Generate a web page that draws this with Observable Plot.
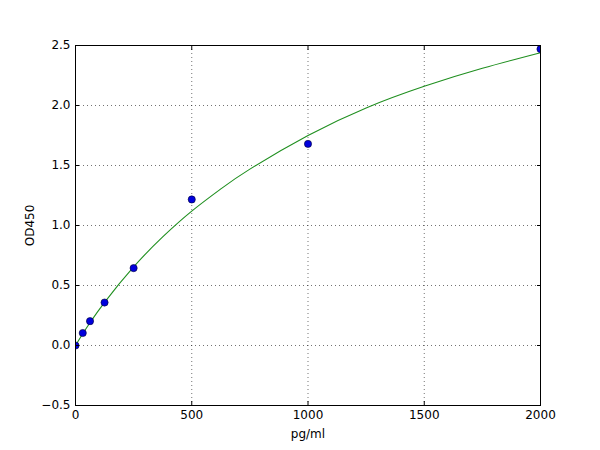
<!DOCTYPE html>
<html>
<head>
<meta charset="utf-8">
<script src="https://cdn.jsdelivr.net/npm/d3@7"></script>
<script src="https://cdn.jsdelivr.net/npm/@observablehq/plot@0.6"></script>
<style>
  html, body { margin: 0; padding: 0; background: #fff; }
  svg { font-family: "DejaVu Sans", sans-serif; }
</style>
</head>
<body>
<div id="chart"></div>
<script>
// Measured standards (pg/ml, OD450)
const stdConc = [0, 31.25, 62.5, 125, 250, 500, 1000, 2000];
const stdOD   = [0.0, 0.104, 0.203, 0.358, 0.645, 1.217, 1.68, 2.47];

// Fitted curve
const curveConc = [0, 31.25, 62.5, 125, 250, 375, 500, 625, 750, 1000, 1250, 1500, 1750, 2000];
const curveOD   = [0.0, 0.098, 0.19, 0.36, 0.655, 0.905, 1.12, 1.305, 1.47, 1.75, 1.98, 2.16, 2.31, 2.44];

const xTicks = [0, 500, 1000, 1500, 2000];
const yTicks = [-0.5, 0.0, 0.5, 1.0, 1.5, 2.0, 2.5];

const points = stdConc.map((c, i) => ({x: c, y: stdOD[i]}));
const curve = curveConc.map((c, i) => ({x: c, y: curveOD[i]}));

const fmtY = d => d3.format(".1f")(d).replace("-", "\u2212");

const chart = Plot.plot({
  width: 600,
  height: 450,
  marginLeft: 75,
  marginRight: 60,
  marginTop: 45,
  marginBottom: 45,
  style: {fontFamily: "DejaVu Sans, sans-serif", fontSize: "12px", color: "#000", background: "#fff"},
  x: {domain: [0, 2000]},
  y: {domain: [-0.5, 2.5]},
  marks: [
    Plot.gridX(xTicks, {stroke: "#000", strokeOpacity: 0.55, strokeDasharray: "1,3", strokeWidth: 1}),
    Plot.gridY(yTicks, {stroke: "#000", strokeOpacity: 0.55, strokeDasharray: "1,3", strokeWidth: 1}),
    Plot.line(curve, {x: "x", y: "y", stroke: "#1f8f1f", strokeWidth: 1.1, curve: "natural"}),
    Plot.dot(points, {x: "x", y: "y", r: 3.6, fill: "#0000dd", stroke: "#000033", strokeWidth: 0.6, clip: true}),
    Plot.frame({stroke: "#000", strokeWidth: 1}),
    // inward ticks on all sides
    Plot.axisX(xTicks, {anchor: "bottom", tickSize: -4, text: null, label: null, stroke: "#000"}),
    Plot.axisX(xTicks, {anchor: "top", tickSize: -4, text: null, label: null, stroke: "#000"}),
    Plot.axisY(yTicks, {anchor: "left", tickSize: -4, text: null, label: null, stroke: "#000"}),
    Plot.axisY(yTicks, {anchor: "right", tickSize: -4, text: null, label: null, stroke: "#000"}),
    // labels
    Plot.axisX(xTicks, {anchor: "bottom", tickSize: 0, tickPadding: 5, tickFormat: d => String(d), label: "pg/ml", labelAnchor: "center", labelArrow: "none", labelOffset: 32, fontSize: 12}),
    Plot.axisY(yTicks, {anchor: "left", tickSize: 0, tickPadding: 5, tickFormat: fmtY, label: "OD450", labelAnchor: "center", labelArrow: "none", labelOffset: 50, fontSize: 12})
  ]
});
document.getElementById("chart").appendChild(chart);
</script>
</body>
</html>
